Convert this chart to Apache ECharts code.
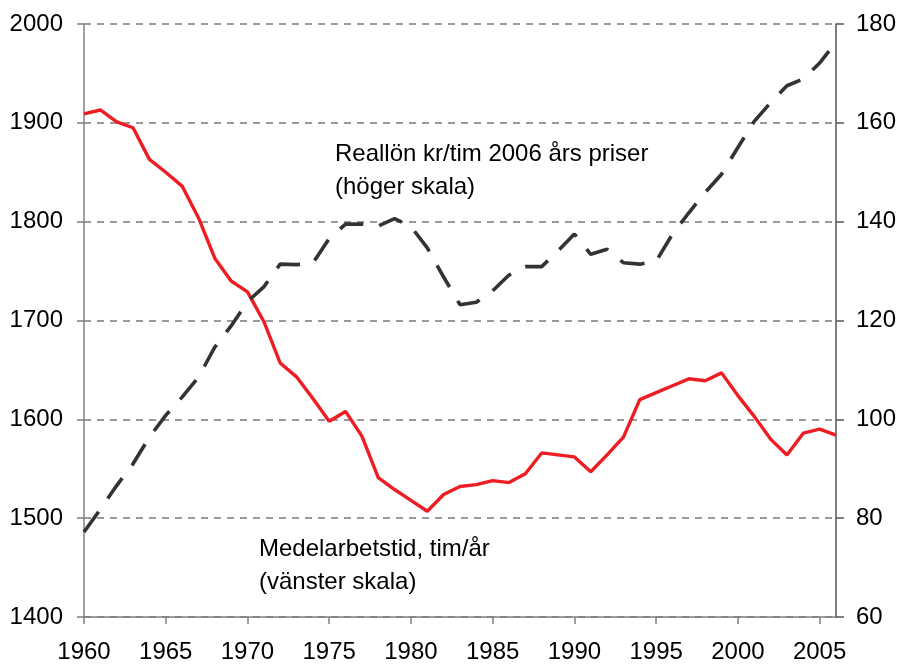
<!DOCTYPE html>
<html>
<head>
<meta charset="utf-8">
<script src="https://cdn.jsdelivr.net/npm/echarts@6/dist/echarts.min.js"></script>
<style>
  html, body { margin: 0; padding: 0; background: #fff; }
  #chart { width: 899px; height: 664px; }
</style>
</head>
<body>
<div id="chart"></div>
<script>
const years = [
  '1960', '1961', '1962', '1963', '1964', '1965', '1966', '1967', '1968', '1969',
  '1970', '1971', '1972', '1973', '1974', '1975', '1976', '1977', '1978', '1979',
  '1980', '1981', '1982', '1983', '1984', '1985', '1986', '1987', '1988', '1989',
  '1990', '1991', '1992', '1993', '1994', '1995', '1996', '1997', '1998', '1999',
  '2000', '2001', '2002', '2003', '2004', '2005', '2006'
];

// Medelarbetstid, tim/år (vänster skala)
const hoursPerYear = [
  1909, 1913, 1901, 1895, 1863, 1850, 1836, 1804, 1763, 1740,
  1729, 1699, 1657, 1643, 1621, 1598, 1608, 1583, 1541, 1529,
  1518, 1507, 1524, 1532, 1534, 1538, 1536, 1545, 1566, 1564,
  1562, 1547, 1564, 1582, 1620, 1627, 1634, 1641, 1639, 1647,
  1624, 1603, 1580, 1564, 1586, 1590, 1584
];

// Reallön kr/tim 2006 års priser (höger skala)
const realWage = [
  77.2, 81.8, 86.6, 91.0, 96.4, 100.8, 104.5, 108.5, 114.6, 118.9,
  123.8, 126.8, 131.4, 131.3, 131.6, 136.6, 139.5, 139.5, 139.1, 140.6,
  139.0, 134.7, 128.8, 123.2, 123.7, 126.0, 129.2, 130.9, 130.9, 134.1,
  137.5, 133.4, 134.4, 131.7, 131.4, 132.0, 137.5, 141.8, 145.9, 149.6,
  155.0, 160.3, 164.1, 167.5, 168.9, 172.1, 176.3
];

const FONT = "'Liberation Sans', Arial, sans-serif";
const FS = 24;

const chart = echarts.init(document.getElementById('chart'));

chart.setOption({
  animation: false,
  textStyle: { fontFamily: FONT },
  grid: { left: 84, right: 61, top: 24, bottom: 45 },
  xAxis: {
    type: 'category',
    data: years,
    boundaryGap: false,
    axisLine: { onZero: false, lineStyle: { color: '#808080', width: 1.5 } },
    axisTick: { interval: 4, length: 7, lineStyle: { color: '#808080', width: 1.5 } },
    axisLabel: { interval: 4, color: '#000', fontSize: FS, fontFamily: FONT, margin: 23 },
    splitLine: { show: false }
  },
  yAxis: [
    {
      type: 'value', min: 1400, max: 2000, interval: 100, position: 'left',
      axisLine: { show: true, lineStyle: { color: '#808080', width: 1.5 } },
      axisTick: { show: true, length: 7, lineStyle: { color: '#808080', width: 1.5 } },
      axisLabel: { color: '#000', fontSize: FS, fontFamily: FONT, margin: 21, formatter: v => String(v) },
      splitLine: { show: true, lineStyle: { color: '#7a7a7a', width: 1.6, type: [7, 6] } }
    },
    {
      type: 'value', min: 60, max: 180, interval: 20, position: 'right',
      axisLine: { show: true, lineStyle: { color: '#555', width: 1.5 } },
      axisTick: { show: true, length: 8, lineStyle: { color: '#555', width: 1.5 } },
      axisLabel: { color: '#000', fontSize: FS, fontFamily: FONT, margin: 20, formatter: v => String(v) },
      splitLine: { show: false }
    }
  ],
  series: [
    {
      name: 'Medelarbetstid, tim/år',
      type: 'line',
      yAxisIndex: 0,
      data: hoursPerYear,
      showSymbol: false,
      lineStyle: { color: '#ee1d23', width: 3.4 },
      z: 2
    },
    {
      name: 'Reallön kr/tim 2006 års priser',
      type: 'line',
      yAxisIndex: 1,
      data: realWage,
      showSymbol: false,
      lineStyle: { color: '#333333', width: 3.6, type: [25, 16], cap: 'butt' },
      z: 3
    }
  ],
  graphic: [
    {
      type: 'text', left: 335, top: 138,
      style: {
        text: 'Reallön kr/tim 2006 års priser\n(höger skala)',
        font: FS + 'px ' + FONT, fill: '#000', lineHeight: 33
      }
    },
    {
      type: 'text', left: 259, top: 533,
      style: {
        text: 'Medelarbetstid, tim/år\n(vänster skala)',
        font: FS + 'px ' + FONT, fill: '#000', lineHeight: 33
      }
    }
  ]
});
</script>
</body>
</html>
